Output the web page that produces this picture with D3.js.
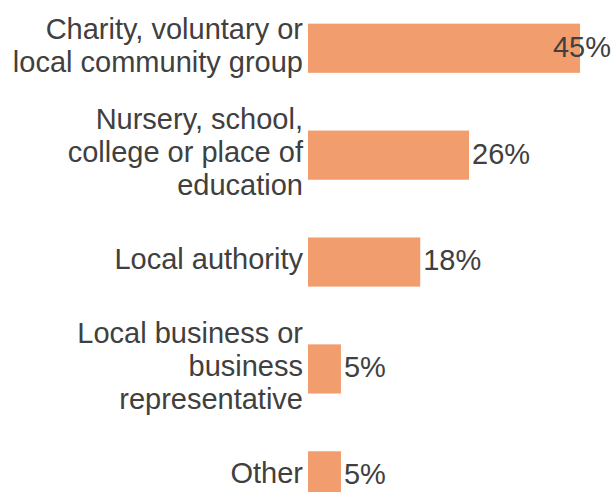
<!DOCTYPE html>
<html>
<head>
<meta charset="utf-8">
<script src="https://cdn.jsdelivr.net/npm/d3@7"></script>
<style>
  body { margin: 0; background: #fff; }
  svg { display: block; }
</style>
</head>
<body>
<div id="chart"></div>
<script>
// categories (each label split into its lines) and the share for each
const categories = ["charity", "education", "authority", "business", "other"];
const labelLines = [
    ["Charity, voluntary or", "local community group"],
    ["Nursery, school,", "college or place of", "education"],
    ["Local authority"],
    ["Local business or", "business", "representative"],
    ["Other"]
];
const shares = [44.6, 26.4, 18.4, 5.4, 5.4];
const xDomain = [0, 50];

const width = 612, height = 492;
const barColor = "#f29d6e";
const textColor = "#404040";
const fontSize = 29;
const lineHeight = 33.3;

let svg = d3.select("#chart").append("svg")
    .attr("width", width)
    .attr("height", height)
    .style("font-family", "'Liberation Sans', Arial, sans-serif");

let x = d3.scaleLinear()
    .domain(xDomain)
    .range([308, 613]);

// bands run past the bottom edge, the last bar is cut off like in the original
let y = d3.scaleBand()
    .domain(categories)
    .range([-5.2, 529.3])
    .paddingInner(0.54)
    .paddingOuter(0.27);

let rows = categories.map((c, i) => ({key: c, value: shares[i], lines: labelLines[i]}));

svg.selectAll(".bar")
    .data(rows)
    .enter().append("rect")
    .attr("class", "bar")
    .attr("x", x(0))
    .attr("y", d => y(d.key))
    .attr("width", d => x(d.value) - x(0))
    .attr("height", y.bandwidth())
    .attr("fill", barColor);

// category labels, right aligned against the bars
let labels = svg.selectAll(".cat")
    .data(rows)
    .enter().append("text")
    .attr("class", "cat")
    .attr("text-anchor", "end")
    .attr("fill", textColor)
    .style("font-size", fontSize + "px");

labels.each(function (d) {
    let mid = y(d.key) + y.bandwidth() / 2;
    let n = d.lines.length;
    d3.select(this).selectAll("tspan")
        .data(d.lines)
        .enter().append("tspan")
        .attr("x", x(0) - 5)
        .attr("y", (l, j) => mid + (j - (n - 1) / 2) * lineHeight)
        .attr("dy", "0.24em")
        .text(l => l);
});

// value labels, pulled back inside when they would run off the edge
let fmt = v => d3.format(".0f")(v) + "%";
svg.selectAll(".val")
    .data(rows)
    .enter().append("text")
    .attr("class", "val")
    .attr("y", d => y(d.key) + y.bandwidth() / 2)
    .attr("dy", "0.29em")
    .attr("fill", textColor)
    .style("font-size", fontSize + "px")
    .text(d => fmt(d.value))
    .each(function (d) {
        let w = this.getComputedTextLength();
        let pos = Math.min(x(d.value) + 3, width - 1 - w);
        d3.select(this).attr("x", pos);
    });
</script>
</body>
</html>
